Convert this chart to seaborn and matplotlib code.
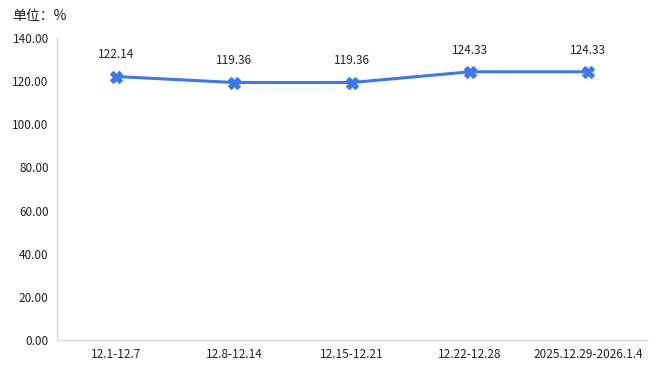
import pandas as pd
import matplotlib
matplotlib.use("Agg")
import matplotlib.pyplot as plt
import seaborn as sns

weeks = ['12.1-12.7', '12.8-12.14', '12.15-12.21', '12.22-12.28', '2025.12.29-2026.1.4']
values = [122.14, 119.36, 119.36, 124.33, 124.33]
yticks = [0, 20, 40, 60, 80, 100, 120, 140]

df = pd.DataFrame({'week': weeks, 'value': values})

sns.set_style('white')
plt.rcParams['font.family'] = ['Noto Sans CJK SC', 'DejaVu Sans']

fig = plt.figure(figsize=(6.54, 3.71), dpi=100)
ax = fig.add_axes([0.0872, 0.0836, 0.9020, 0.8140])

line_color = '#3a78f2'
sns.lineplot(data=df, x='week', y='value', ax=ax, color=line_color, linewidth=2.2,
             marker='X', markersize=9, markeredgecolor=line_color, sort=False)

for i, v in enumerate(values):
    ax.annotate(f'{v:.2f}', (i, v), xytext=(0, 11), textcoords='offset points',
                ha='center', va='bottom', fontsize=8.5, color='#222222')

ax.set_xlim(-0.5, len(weeks) - 0.5)
ax.set_ylim(0, 140)
ax.set_yticks(yticks)
ax.set_yticklabels([f'{t:.2f}' for t in yticks])
ax.set_xlabel('')
ax.set_ylabel('')
ax.tick_params(axis='both', labelsize=8.5, colors='#222222', length=0, pad=6)

for s in ['top', 'right']:
    ax.spines[s].set_visible(False)
for s in ['left', 'bottom']:
    ax.spines[s].set_color('#d9d9d9')
    ax.spines[s].set_linewidth(1)

fig.text(0.018, 0.958, '单位：%', fontsize=10, color='#222222', va='center', ha='left')

fig.savefig('out.png', dpi=100)
